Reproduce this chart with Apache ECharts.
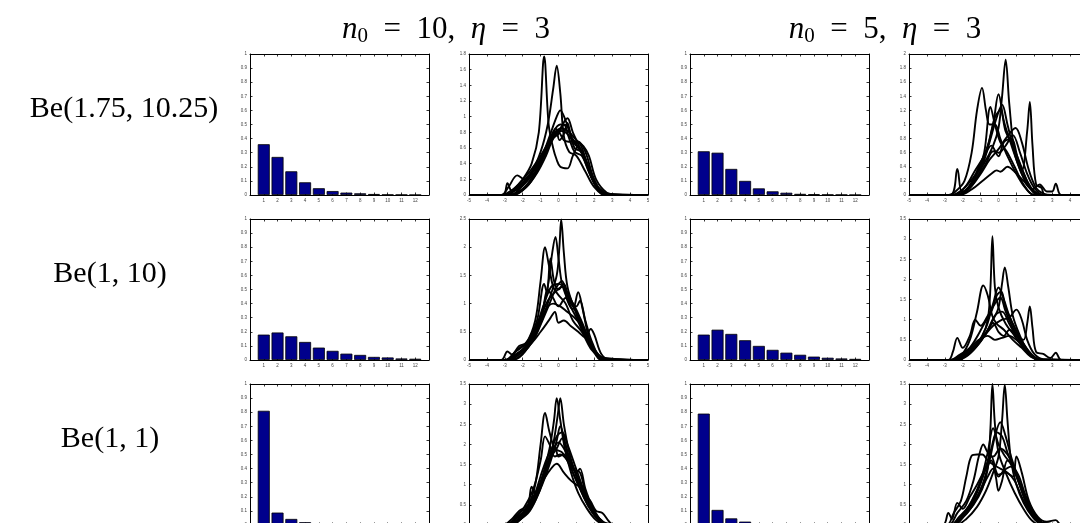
<!DOCTYPE html>
<html><head><meta charset="utf-8">
<script src="https://cdn.jsdelivr.net/npm/echarts@6/dist/echarts.min.js"></script>
<style>html,body{margin:0;padding:0;background:#fff;overflow:hidden;width:1080px;height:523px;}#c{width:1100px;height:545px;}</style>
</head><body><div id="c"></div>
<script>
// ---------- DATA ----------
const barCategories = [1,2,3,4,5,6,7,8,9,10,11,12];
const colTitles = ['n0 = 10, η = 3', 'n0 = 5, η = 3'];
const rowLabels = ['Be(1.75, 10.25)', 'Be(1, 10)', 'Be(1, 1)'];

const bar_r1c1 = [0.36,0.27,0.168,0.09,0.048,0.028,0.017,0.012,0.007,0.003,0.002,0.001];
const bar_r1c3 = [0.31,0.30,0.185,0.10,0.047,0.026,0.016,0.008,0.006,0.003,0.002,0.001];
const bar_r2c1 = [0.18,0.195,0.168,0.128,0.088,0.065,0.045,0.036,0.022,0.018,0.011,0.009];
const bar_r2c3 = [0.18,0.215,0.185,0.14,0.1,0.072,0.052,0.037,0.024,0.016,0.011,0.008];
const bar_r3c1 = [0.81,0.088,0.043,0.02,0.01,0.006,0.004,0.003,0.002,0.001,0.001,0.001];
const bar_r3c3 = [0.79,0.107,0.047,0.024,0.012,0.007,0.005,0.003,0.002,0.001,0.001,0.001];

const line_r1c2 = [
 [[-5,0],[-3.2,0],[-2.5,0.08],[-2,0.2],[-1.5,0.4],[-1.1,0.8],[-0.8,1.77],[-0.55,0.9],[-0.3,0.6],[-0.1,0.45],[0.1,0.36],[0.5,0.34],[0.8,0.5],[1.1,0.62],[1.5,0.45],[2,0.15],[2.6,0.02],[3,0],[5,0]],
 [[-5,0],[-3,0],[-2.3,0.1],[-1.5,0.3],[-1,0.55],[-0.6,0.9],[-0.3,1.35],[-0.1,1.65],[0.1,1.3],[0.3,0.75],[0.6,0.55],[1,0.5],[1.5,0.3],[2,0.1],[2.6,0],[5,0]],
 [[-5,0],[-3,0],[-2.2,0.1],[-1.5,0.28],[-1,0.45],[-0.5,0.75],[-0.1,1.0],[0.1,1.08],[0.4,0.95],[0.7,0.75],[1.0,0.65],[1.4,0.5],[1.8,0.25],[2.3,0.08],[3,0],[5,0]],
 [[-5,0],[-2.8,0],[-2.3,0.12],[-1.6,0.3],[-1,0.5],[-0.5,0.7],[-0.15,0.85],[0.05,0.7],[0.3,0.78],[0.5,0.92],[0.75,0.7],[1.1,0.6],[1.5,0.45],[2,0.15],[2.6,0.02],[5,0]],
 [[-5,0],[-3.2,0],[-2.8,0.1],[-2.3,0.25],[-1.9,0.2],[-1.4,0.3],[-0.9,0.5],[-0.4,0.75],[0,0.82],[0.4,0.8],[0.8,0.7],[1.2,0.65],[1.6,0.4],[2.1,0.1],[2.6,0],[5,0]],
 [[-5,0],[-3.1,0],[-2.85,0.15],[-2.6,0.05],[-2,0.12],[-1.4,0.32],[-0.8,0.55],[-0.3,0.8],[0.1,0.9],[0.5,0.88],[0.9,0.6],[1.3,0.55],[1.7,0.35],[2.2,0.08],[2.8,0],[5,0]],
 [[-5,0],[-2.8,0],[-2,0.08],[-1.4,0.25],[-0.8,0.5],[-0.3,0.72],[0.1,0.85],[0.5,0.98],[0.8,0.8],[1.2,0.6],[1.6,0.35],[2,0.15],[2.5,0.03],[3,0],[5,0]],
 [[-5,0],[-2.6,0],[-1.8,0.1],[-1.2,0.3],[-0.6,0.6],[-0.2,0.8],[0.2,0.85],[0.6,0.8],[1,0.7],[1.4,0.62],[1.7,0.5],[2.1,0.2],[2.7,0.03],[3.3,0],[5,0]],
 [[-5,0],[-2.5,0],[-1.8,0.1],[-1.2,0.28],[-0.7,0.5],[-0.3,0.72],[0,0.78],[0.3,0.9],[0.6,0.72],[0.9,0.55],[1.3,0.5],[1.8,0.25],[2.3,0.05],[2.8,0],[5,0]],
 [[-5,0],[-2.7,0],[-2,0.12],[-1.3,0.3],[-0.7,0.55],[-0.3,0.75],[0,0.8],[0.3,0.7],[0.7,0.68],[1.1,0.68],[1.5,0.55],[2,0.2],[2.6,0.02],[5,0]]
];
const line_r1c4 = [
 [[-5,0],[-2.6,0],[-2,0.08],[-1.4,0.25],[-0.8,0.45],[-0.3,0.7],[0,0.95],[0.2,1.4],[0.4,1.92],[0.6,1.3],[0.9,0.6],[1.3,0.3],[1.8,0.08],[2.4,0],[5,0]],
 [[-5,0],[-2.8,0],[-2.4,0.05],[-1.9,0.2],[-1.5,0.6],[-1.2,1.2],[-0.92,1.52],[-0.7,1.2],[-0.5,1.0],[-0.2,1.0],[0.1,0.8],[0.5,0.55],[1,0.3],[1.5,0.1],[2,0],[5,0]],
 [[-5,0],[-2.7,0],[-2.3,0.37],[-2.05,0.05],[-1.7,0.08],[-1.2,0.3],[-0.8,0.6],[-0.45,1.25],[-0.2,1.0],[0.1,0.75],[0.5,0.6],[0.9,0.4],[1.4,0.15],[2,0],[5,0]],
 [[-5,0],[-2.4,0],[-1.8,0.08],[-1.2,0.3],[-0.7,0.6],[-0.3,1.0],[0,1.43],[0.3,1.05],[0.6,0.8],[1,0.5],[1.5,0.2],[2.1,0.03],[2.6,0],[5,0]],
 [[-5,0],[-2.2,0],[-1.6,0.1],[-1,0.35],[-0.5,0.75],[-0.1,1.1],[0.2,1.28],[0.5,1.0],[0.9,0.6],[1.3,0.35],[1.6,0.9],[1.75,1.32],[1.9,0.7],[2.1,0.15],[2.4,0.1],[2.6,0],[5,0]],
 [[-5,0],[-2.3,0],[-1.6,0.1],[-1,0.3],[-0.5,0.5],[0,0.65],[0.4,0.8],[0.95,0.95],[1.3,0.75],[1.7,0.35],[2.1,0.1],[2.5,0.02],[3,0],[5,0]],
 [[-5,0],[-2.2,0],[-1.5,0.08],[-0.9,0.2],[-0.4,0.3],[-0.1,0.35],[0.1,0.33],[0.5,0.4],[0.9,0.33],[1.4,0.2],[1.9,0.08],[2.3,0.15],[2.7,0.05],[3.0,0.05],[3.2,0.16],[3.5,0],[5,0]],
 [[-5,0],[-2.4,0],[-1.8,0.07],[-1.2,0.25],[-0.7,0.45],[-0.3,0.62],[0,0.6],[0.4,0.7],[0.8,0.85],[1.2,0.6],[1.6,0.3],[2,0.1],[2.5,0],[5,0]],
 [[-5,0],[-2.3,0],[-1.7,0.1],[-1.1,0.4],[-0.6,0.7],[-0.2,1.1],[0.1,1.2],[0.4,0.9],[0.8,0.7],[1.2,0.45],[1.6,0.2],[2,0.05],[2.4,0],[5,0]],
 [[-5,0],[-2.5,0],[-1.9,0.1],[-1.3,0.35],[-0.8,0.55],[-0.4,0.7],[0,0.55],[0.3,0.75],[0.7,0.8],[1.1,0.5],[1.5,0.25],[1.9,0.05],[2.3,0],[5,0]]
];
const line_r2c2 = [
 [[-5,0],[-3,0],[-2.3,0.1],[-1.6,0.3],[-1,0.65],[-0.5,1.1],[-0.1,1.5],[0.05,2.0],[0.15,2.49],[0.3,1.9],[0.5,1.3],[0.9,0.9],[1.4,0.5],[2,0.15],[2.6,0.02],[5,0]],
 [[-5,0],[-3,0],[-2.4,0.15],[-1.8,0.3],[-1.3,0.7],[-1,1.4],[-0.75,2.0],[-0.55,1.7],[-0.3,1.3],[0,1.15],[0.4,1.0],[0.8,0.7],[1.3,0.5],[1.8,0.2],[2.3,0.05],[2.8,0],[5,0]],
 [[-5,0],[-2.8,0],[-2.2,0.12],[-1.5,0.35],[-1,0.75],[-0.6,1.3],[-0.35,1.9],[-0.17,2.18],[0,1.8],[0.2,1.35],[0.6,1.0],[1,0.75],[1.5,0.4],[2,0.15],[2.5,0],[5,0]],
 [[-5,0],[-2.9,0],[-2.3,0.18],[-1.7,0.35],[-1.2,0.7],[-0.8,1.35],[-0.65,1.2],[-0.45,1.8],[-0.25,1.4],[0,1.25],[0.3,1.35],[0.6,1.05],[1,0.85],[1.4,0.55],[1.9,0.2],[2.4,0],[5,0]],
 [[-5,0],[-2.6,0],[-2,0.12],[-1.4,0.35],[-0.9,0.7],[-0.5,1.0],[-0.1,1.3],[0.2,1.4],[0.5,1.05],[0.8,0.9],[1.1,1.2],[1.35,0.9],[1.7,0.4],[2.1,0.15],[2.6,0.02],[5,0]],
 [[-5,0],[-2.8,0],[-2.2,0.1],[-1.5,0.3],[-1,0.5],[-0.5,0.72],[-0.2,0.85],[0,0.66],[0.3,0.7],[0.7,0.6],[1.1,0.5],[1.5,0.4],[1.8,0.55],[2.0,0.45],[2.4,0.1],[2.9,0],[5,0]],
 [[-5,0],[-3.2,0],[-2.85,0.15],[-2.6,0.1],[-2.2,0.25],[-1.8,0.3],[-1.3,0.55],[-0.8,1.0],[-0.4,1.3],[0,1.35],[0.4,1.25],[0.8,1.0],[1.2,0.7],[1.7,0.35],[2.2,0.08],[2.7,0],[5,0]],
 [[-5,0],[-2.6,0],[-2,0.1],[-1.4,0.4],[-0.9,0.85],[-0.6,1.25],[-0.3,1.1],[0,0.95],[0.4,1.1],[0.8,1.0],[1.2,0.75],[1.6,0.45],[2,0.15],[2.5,0],[5,0]],
 [[-5,0],[-2.7,0],[-2.1,0.15],[-1.5,0.4],[-1,0.75],[-0.6,1.05],[-0.2,1.2],[0.2,1.3],[0.6,1.1],[1,0.95],[1.2,1.05],[1.5,0.7],[1.9,0.3],[2.4,0.05],[5,0]],
 [[-5,0],[-3,0],[-2.4,0.1],[-1.8,0.25],[-1.2,0.55],[-0.7,0.9],[-0.3,1.0],[0.1,0.95],[0.5,0.85],[0.9,0.75],[1.3,0.6],[1.7,0.35],[2.2,0.1],[2.8,0],[5,0]]
];
const line_r2c4 = [
 [[-5,0],[-2.6,0],[-2,0.1],[-1.4,0.3],[-0.9,0.6],[-0.6,1.0],[-0.45,1.8],[-0.34,3.07],[-0.2,1.8],[0,1.3],[0.4,0.9],[0.9,0.6],[1.4,0.3],[1.9,0.08],[2.4,0],[5,0]],
 [[-5,0],[-2.4,0],[-1.8,0.1],[-1.2,0.35],[-0.7,0.65],[-0.3,1.0],[0,1.3],[0.2,1.9],[0.35,2.3],[0.55,1.8],[0.8,1.1],[1.2,0.6],[1.6,0.25],[2,0.05],[2.5,0],[5,0]],
 [[-5,0],[-2.6,0],[-2.1,0.1],[-1.6,0.5],[-1.2,1.2],[-0.85,1.85],[-0.6,1.6],[-0.35,1.1],[-0.1,0.9],[0.3,0.75],[0.8,0.5],[1.3,0.3],[1.8,0.08],[2.3,0],[5,0]],
 [[-5,0],[-2.4,0],[-1.8,0.12],[-1.2,0.4],[-0.7,0.8],[-0.3,1.4],[0,1.8],[0.3,1.5],[0.6,1.1],[1,0.7],[1.4,0.4],[1.9,0.12],[2.4,0],[5,0]],
 [[-5,0],[-2.3,0],[-1.7,0.12],[-1.1,0.4],[-0.6,0.75],[-0.2,1.1],[0.2,1.2],[0.6,0.9],[1.0,0.6],[1.4,0.5],[1.6,0.9],[1.75,1.33],[1.9,0.8],[2.1,0.2],[2.5,0.15],[2.9,0.05],[3.2,0.18],[3.5,0],[5,0]],
 [[-5,0],[-2.5,0],[-1.9,0.1],[-1.3,0.35],[-0.8,0.6],[-0.3,0.85],[0.2,1.0],[0.6,1.05],[1.0,1.25],[1.3,1.0],[1.6,0.5],[2,0.15],[2.5,0.02],[5,0]],
 [[-5,0],[-2.8,0],[-2.55,0.2],[-2.3,0.55],[-2.0,0.3],[-1.6,0.6],[-1.3,1.0],[-1.0,0.85],[-0.6,1.1],[-0.2,1.4],[0.1,1.55],[0.4,1.2],[0.8,0.8],[1.3,0.4],[1.8,0.12],[2.3,0],[5,0]],
 [[-5,0],[-2.6,0],[-2,0.15],[-1.5,0.3],[-1,0.5],[-0.6,0.75],[-0.3,0.92],[0,0.7],[0.3,0.6],[0.6,0.75],[1,0.6],[1.4,0.35],[1.9,0.1],[2.4,0],[5,0]],
 [[-5,0],[-2.5,0],[-1.9,0.15],[-1.3,0.5],[-0.8,0.9],[-0.4,1.2],[-0.1,1.6],[0.15,1.7],[0.4,1.3],[0.8,0.9],[1.2,0.55],[1.6,0.25],[2,0.06],[2.5,0],[5,0]],
 [[-5,0],[-2.7,0],[-2.2,0.12],[-1.6,0.3],[-1.1,0.5],[-0.6,0.6],[-0.2,0.5],[0.2,0.55],[0.6,0.6],[1,0.5],[1.4,0.3],[1.8,0.1],[2.2,0.02],[5,0]]
];
const line_r3c2 = [
 [[-5,0],[-3,0],[-2.4,0.15],[-1.8,0.35],[-1.3,0.7],[-0.9,1.2],[-0.5,1.9],[-0.25,2.6],[-0.1,3.15],[0.1,2.6],[0.35,1.9],[0.7,1.3],[1.1,0.8],[1.6,0.4],[2.1,0.12],[2.6,0],[5,0]],
 [[-5,0],[-2.8,0],[-2.2,0.12],[-1.6,0.35],[-1.1,0.8],[-0.7,1.35],[-0.3,2.0],[-0.05,2.7],[0.1,3.15],[0.3,2.5],[0.6,1.8],[1,1.2],[1.4,0.7],[1.9,0.3],[2.4,0.05],[2.9,0],[5,0]],
 [[-5,0],[-3.1,0],[-2.6,0.15],[-2.2,0.35],[-1.7,0.5],[-1.3,1.0],[-1,2.0],[-0.75,2.78],[-0.5,2.3],[-0.2,1.9],[0.2,1.8],[0.6,1.5],[1,1.1],[1.5,0.65],[2,0.3],[2.5,0.08],[3,0],[5,0]],
 [[-5,0],[-2.9,0],[-2.4,0.2],[-1.9,0.45],[-1.4,0.9],[-1,1.6],[-0.75,2.2],[-0.5,2.0],[-0.2,1.7],[0.1,1.75],[0.5,1.6],[0.9,1.2],[1.3,0.8],[1.7,0.45],[2.2,0.15],[2.7,0],[5,0]],
 [[-5,0],[-2.7,0],[-2.1,0.15],[-1.5,0.45],[-1,0.9],[-0.5,1.5],[-0.1,2.1],[0.1,2.45],[0.4,2.0],[0.8,1.4],[1.2,1.3],[1.5,0.8],[1.9,0.4],[2.4,0.1],[2.9,0],[5,0]],
 [[-5,0],[-2.8,0],[-2.3,0.2],[-1.8,0.4],[-1.4,0.7],[-1,1.0],[-0.5,1.35],[-0.1,1.52],[0.3,1.3],[0.7,1.1],[1.0,1.0],[1.3,0.9],[1.5,0.7],[1.75,0.62],[2.1,0.35],[2.45,0.3],[2.8,0.1],[3.1,0],[5,0]],
 [[-5,0],[-3,0],[-2.6,0.08],[-2.2,0.3],[-1.7,0.45],[-1.3,0.8],[-0.9,1.35],[-0.5,1.8],[-0.2,1.95],[0,1.7],[0.3,1.75],[0.6,1.6],[1,1.3],[1.2,1.4],[1.5,0.9],[1.9,0.45],[2.4,0.1],[2.9,0],[5,0]],
 [[-5,0],[-2.8,0],[-2.2,0.18],[-1.7,0.5],[-1.5,0.95],[-1.3,0.8],[-0.9,1.2],[-0.5,1.7],[-0.1,2.2],[0.2,2.3],[0.5,2.0],[0.9,1.5],[1.3,1.0],[1.7,0.5],[2.2,0.15],[2.7,0],[5,0]],
 [[-5,0],[-2.6,0],[-2,0.2],[-1.5,0.5],[-1,1.0],[-0.6,1.5],[-0.3,1.85],[0,2.05],[0.3,1.9],[0.7,1.55],[1.1,1.15],[1.5,0.7],[2,0.3],[2.5,0.05],[5,0]],
 [[-5,0],[-2.9,0],[-2.3,0.12],[-1.8,0.35],[-1.3,0.75],[-0.8,1.25],[-0.4,1.7],[-0.1,1.9],[0.2,2.15],[0.5,1.8],[0.9,1.35],[1.3,0.95],[1.7,0.55],[2.2,0.2],[2.7,0.02],[5,0]]
];
const line_r3c4 = [
 [[-5,0],[-2.6,0],[-2,0.2],[-1.4,0.5],[-0.9,0.9],[-0.6,1.4],[-0.45,2.4],[-0.34,3.5],[-0.2,2.5],[0,1.8],[0.4,1.3],[0.9,0.8],[1.4,0.4],[1.9,0.1],[2.4,0],[5,0]],
 [[-5,0],[-2.4,0],[-1.8,0.15],[-1.2,0.45],[-0.7,0.85],[-0.3,1.3],[0,1.7],[0.2,2.6],[0.35,3.48],[0.5,2.6],[0.7,1.6],[1.0,1.0],[1.4,0.55],[1.9,0.2],[2.4,0.03],[5,0]],
 [[-5,0],[-2.6,0],[-2,0.2],[-1.4,0.55],[-0.9,1.0],[-0.5,1.6],[-0.2,2.2],[0.1,2.55],[0.4,2.2],[0.7,1.7],[1.0,1.3],[1.4,0.8],[1.8,0.4],[2.3,0.1],[2.8,0],[5,0]],
 [[-5,0],[-2.7,0],[-2.1,0.2],[-1.5,0.6],[-1,1.1],[-0.6,1.8],[-0.3,2.4],[0,2.0],[0.3,1.75],[0.7,1.5],[1.1,1.1],[1.5,0.65],[2,0.25],[2.5,0.05],[5,0]],
 [[-5,0],[-2.8,0],[-2.3,0.3],[-1.8,0.6],[-1.4,1.1],[-1.1,1.7],[-0.85,2.0],[-0.6,1.8],[-0.3,1.7],[0.1,1.9],[0.5,1.75],[0.9,1.4],[1.3,0.9],[1.8,0.4],[2.3,0.1],[2.8,0],[5,0]],
 [[-5,0],[-2.9,0],[-2.5,0.3],[-2.1,0.6],[-1.8,1.2],[-1.5,1.72],[-1.2,1.75],[-0.9,1.75],[-0.6,1.6],[-0.3,1.5],[0.1,1.4],[0.5,1.3],[0.9,1.1],[1.3,0.7],[1.7,0.35],[2.2,0.1],[2.7,0],[5,0]],
 [[-5,0],[-2.7,0],[-2.2,0.2],[-1.6,0.5],[-1.1,0.95],[-0.7,1.4],[-0.4,1.6],[-0.15,1.2],[0,0.85],[0.2,1.1],[0.5,1.6],[0.8,1.5],[1.1,1.1],[1.5,0.6],[2,0.2],[2.5,0.03],[5,0]],
 [[-5,0],[-3.1,0],[-2.8,0.3],[-2.6,0.15],[-2.3,0.55],[-2.0,0.4],[-1.6,0.7],[-1.2,1.0],[-0.8,1.35],[-0.4,1.7],[0,1.25],[0.4,1.3],[0.8,1.2],[1.0,1.7],[1.3,1.3],[1.7,0.6],[2.2,0.2],[2.7,0.08],[3.2,0.12],[3.5,0],[5,0]],
 [[-5,0],[-2.6,0],[-2,0.18],[-1.5,0.45],[-1,0.85],[-0.6,1.2],[-0.3,1.4],[0,1.2],[0.3,1.35],[0.7,1.45],[1.1,1.25],[1.5,0.75],[2,0.3],[2.5,0.05],[5,0]],
 [[-5,0],[-2.5,0],[-1.9,0.25],[-1.3,0.7],[-0.8,1.3],[-0.4,1.9],[-0.1,2.3],[0.2,2.2],[0.5,1.8],[0.9,1.35],[1.3,0.85],[1.7,0.4],[2.2,0.1],[2.7,0],[5,0]]
];
const lineYMax = [[1.8, 2], [2.5, 3.5], [3.5, 3.5]];
const lineYStep = [[0.2, 0.2], [0.5, 0.5], [0.5, 0.5]];

// ---------- LAYOUT ----------
const colLeft = [250, 469, 690, 909];
const rowTop = [54, 219, 384];
const PW = 179, PH = 141;
const barData = [[bar_r1c1, bar_r1c3], [bar_r2c1, bar_r2c3], [bar_r3c1, bar_r3c3]];
const lineData = [[line_r1c2, line_r1c4], [line_r2c2, line_r2c4], [line_r3c2, line_r3c4]];

const grids = [], xAxes = [], yAxes = [], series = [];
const tickFont = {fontSize: 4.5, color: '#444', fontFamily: 'Liberation Sans'};
const fmt = v => String(+v.toFixed(2));

function addPanel(r, c, isBar, idx) {
  const g = grids.length;
  grids.push({left: colLeft[c], top: rowTop[r], width: PW, height: PH});
  const xr = isBar ? {min: 0, max: 13, interval: 1} : {min: -5, max: 5, interval: 1};
  const ymax = isBar ? 1 : lineYMax[r][idx];
  const ystep = isBar ? 0.1 : lineYStep[r][idx];
  const line = {show: true, onZero: false, lineStyle: {color: '#000', width: 1}};
  const tick = {show: true, inside: true, length: 2.5, lineStyle: {color: '#000', width: 0.8}};
  xAxes.push(Object.assign({type: 'value', gridIndex: g, position: 'bottom', axisLine: line, axisTick: tick, splitLine: {show: false},
    axisLabel: Object.assign({show: true, margin: 3, formatter: v => (isBar && (v < 1 || v > 12)) ? '' : fmt(v)}, tickFont)}, xr));
  xAxes.push(Object.assign({type: 'value', gridIndex: g, position: 'top', axisLine: line, axisTick: tick, splitLine: {show: false}, axisLabel: {show: false}}, xr));
  yAxes.push({type: 'value', gridIndex: g, position: 'left', min: 0, max: ymax, interval: ystep, axisLine: line, axisTick: tick, splitLine: {show: false},
    axisLabel: Object.assign({show: true, margin: 3, formatter: fmt}, tickFont)});
  yAxes.push({type: 'value', gridIndex: g, position: 'right', min: 0, max: ymax, interval: ystep, axisLine: line, axisTick: tick, splitLine: {show: false}, axisLabel: {show: false}});
  if (isBar) {
    series.push({type: 'bar', xAxisIndex: 2 * g, yAxisIndex: 2 * g, barWidth: 12,
      data: barCategories.map((k, i) => [k, barData[r][idx][i]]),
      itemStyle: {color: '#00008c', borderColor: '#000', borderWidth: 0.8}, silent: true});
  } else {
    lineData[r][idx].forEach(curve => {
      series.push({type: 'line', xAxisIndex: 2 * g, yAxisIndex: 2 * g, data: curve, showSymbol: false, symbol: 'none',
        smooth: 0.35, clip: true, lineStyle: {color: '#000', width: 1.9}, silent: true});
    });
  }
}
for (let r = 0; r < 3; r++) {
  addPanel(r, 0, true, 0);
  addPanel(r, 1, false, 0);
  addPanel(r, 2, true, 1);
  addPanel(r, 3, false, 1);
}

const serif = 'Liberation Serif';
const richStyles = {
  i: {fontFamily: serif, fontSize: 31, fontStyle: 'italic', lineHeight: 34, color: '#000'},
  r: {fontFamily: serif, fontSize: 31, lineHeight: 34, color: '#000'},
  s: {fontFamily: serif, fontSize: 21, lineHeight: 8, verticalAlign: 'bottom', color: '#000'}
};
function titleText(t) {
  const m = t.match(/^n0 = (\d+), η = (\d+)$/);
  return '{i|n}{s|0}{r|  =  ' + m[1] + ',  }{i|η}{r|  =  ' + m[2] + '}';
}
const graphics = [
  {type: 'text', x: 446, y: 30, style: {text: titleText(colTitles[0]), rich: richStyles, align: 'center', verticalAlign: 'middle'}},
  {type: 'text', x: 885, y: 30, style: {text: titleText(colTitles[1]), rich: richStyles, align: 'center', verticalAlign: 'middle'}}
];
const rowCx = [124, 110, 110];
rowLabels.forEach((t, r) => {
  graphics.push({type: 'text', x: rowCx[r], y: rowTop[r] + 55, style: {text: t, font: '30px "Liberation Serif"', fill: '#000', align: 'center', verticalAlign: 'middle'}});
});

const chart = echarts.init(document.getElementById('c'), null, {renderer: 'canvas'});
chart.setOption({animation: false, grid: grids, xAxis: xAxes, yAxis: yAxes, series: series, graphic: graphics});
</script></body></html>
